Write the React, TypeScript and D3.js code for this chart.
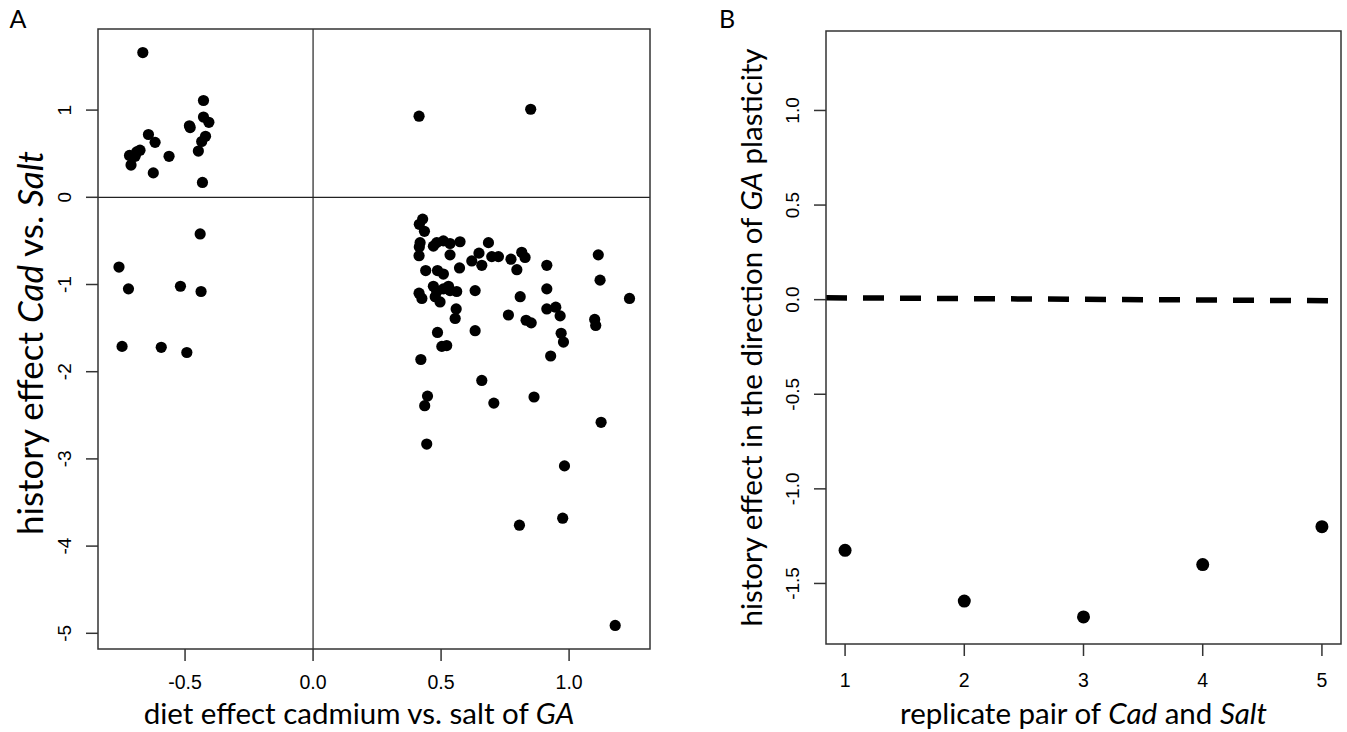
import * as d3 from 'd3'

// panel A: diet effect (x) vs history effect (y), one entry per trait
const dietEffect = [
  -0.665, -0.428, -0.428, -0.407, -0.483, -0.48, -0.42, -0.435, -0.448, -0.432,
  -0.643, -0.617, -0.676, -0.689, -0.717, -0.695, -0.711, -0.5625, -0.624,
  -0.441, -0.758, -0.721, -0.518, -0.4375, -0.746, -0.593, -0.493,
  0.414, 0.85,
  0.428, 0.415, 0.435, 0.418, 0.415, 0.414, 0.47, 0.483, 0.509, 0.535, 0.574, 0.535,
  0.685, 0.648, 0.62, 0.659, 0.698, 0.724, 0.773, 0.815, 0.828, 0.796, 0.913, 1.114,
  1.121, 1.236, 0.44, 0.486, 0.509, 0.572, 0.47, 0.483, 0.509, 0.529, 0.535, 0.561,
  0.414, 0.425, 0.477, 0.496, 0.633, 0.809, 0.913, 0.559, 0.555, 0.763, 0.832, 0.852,
  0.913, 0.948, 0.965, 1.1, 1.104, 0.969, 0.978, 0.486, 0.633, 0.503, 0.522, 0.928,
  0.421, 0.659, 0.447, 0.436, 0.706, 0.863, 1.125, 0.444, 0.982, 0.806, 0.975, 1.18,
]
const historyEffect = [
  1.66, 1.11, 0.92, 0.86, 0.82, 0.8, 0.7, 0.64, 0.53, 0.17,
  0.72, 0.63, 0.54, 0.52, 0.48, 0.47, 0.37, 0.47, 0.28,
  -0.42, -0.8, -1.05, -1.02, -1.08, -1.71, -1.72, -1.78,
  0.93, 1.01,
  -0.25, -0.31, -0.39, -0.52, -0.57, -0.67, -0.56, -0.52, -0.5, -0.53, -0.51, -0.66,
  -0.52, -0.64, -0.73, -0.78, -0.68, -0.68, -0.71, -0.63, -0.69, -0.83, -0.78, -0.66,
  -0.95, -1.16, -0.84, -0.84, -0.88, -0.81, -1.02, -1.08, -1.05, -1.02, -1.07, -1.08,
  -1.1, -1.16, -1.14, -1.2, -1.07, -1.14, -1.05, -1.28, -1.39, -1.35, -1.41, -1.44,
  -1.28, -1.26, -1.36, -1.4, -1.47, -1.56, -1.66, -1.55, -1.53, -1.71, -1.7, -1.82,
  -1.86, -2.1, -2.28, -2.39, -2.36, -2.29, -2.58, -2.83, -3.08, -3.76, -3.68, -4.91,
]
const aXTicks = [-0.5, 0, 0.5, 1.0]
const aYTicks = [1, 0, -1, -2, -3, -4, -5]

// panel B: per replicate pair
const replicates = [1, 2, 3, 4, 5]
const replicateEffect = [-1.325, -1.593, -1.677, -1.4, -1.2]
const bYTicks = [1.0, 0.5, 0.0, -0.5, -1.0, -1.5]
// dashed reference line, value at left and right end of the x range
const dashedLine = [0.01, -0.006]

const tickFont = '"Liberation Sans", Arial, sans-serif'
const titleFont = 'Lato, "Open Sans", sans-serif'

function App() {
  // panel A scales
  const ax = d3.scaleLinear().domain([-0.84, 1.316]).range([98, 650])
  const ay = d3.scaleLinear().domain([-5.18, 1.93]).range([649, 29])
  // panel B scales
  const bx = d3.scaleLinear().domain([0.84, 5.16]).range([826, 1341])
  const by = d3.scaleLinear().domain([-1.82, 1.42]).range([644, 31])

  const [ax0, ax1] = ax.range()
  const [ay0, ay1] = ay.range()
  const [bx0, bx1] = bx.range()
  const [by0, by1] = by.range()

  const dashed = d3
    .line<number>()
    .x((d, i) => bx(bx.domain()[i]))
    .y((d) => by(d))

  return (
    <svg
      width={1347}
      height={732}
      style={{ position: 'absolute', left: 0, top: 0, background: '#fff' }}
    >
      <rect width={1347} height={732} fill="#fff" />

      {/* ---------- panel A ---------- */}
      <text x={18} y={28} fontFamily={titleFont} fontSize={25} textAnchor="middle">
        A
      </text>
      <line x1={ax(0)} x2={ax(0)} y1={ay1} y2={ay0} stroke="#222" strokeWidth={1.2} />
      <line x1={ax0} x2={ax1} y1={ay(0)} y2={ay(0)} stroke="#222" strokeWidth={1.2} />
      {dietEffect.map((d, i) => (
        <circle key={i} cx={ax(d)} cy={ay(historyEffect[i])} r={5.6} fill="#000" />
      ))}
      <rect
        x={ax0}
        y={ay1}
        width={ax1 - ax0}
        height={ay0 - ay1}
        fill="none"
        stroke="#333"
        strokeWidth={1.5}
      />
      {aXTicks.map((t) => (
        <g key={t}>
          <line x1={ax(t)} x2={ax(t)} y1={ay0} y2={ay0 + 12} stroke="#333" strokeWidth={1.5} />
          <text x={ax(t)} y={ay0 + 40} textAnchor="middle" fontFamily={tickFont} fontSize={19.5}>
            {t.toFixed(1)}
          </text>
        </g>
      ))}
      {aYTicks.map((t) => (
        <g key={t}>
          <line x1={ax0 - 12} x2={ax0} y1={ay(t)} y2={ay(t)} stroke="#333" strokeWidth={1.5} />
          <text
            transform={`translate(${ax0 - 27},${ay(t)}) rotate(-90)`}
            textAnchor="middle"
            fontFamily={tickFont}
            fontSize={19}
          >
            {String(t)}
          </text>
        </g>
      ))}
      <text x={359} y={724} textAnchor="middle" fontFamily={titleFont} fontSize={29.5}>
        diet effect cadmium vs. salt of <tspan fontStyle="italic">GA</tspan>
      </text>
      <text
        transform={`translate(43,343) rotate(-90)`}
        textAnchor="middle"
        fontFamily={titleFont}
        fontSize={35}
      >
        history effect <tspan fontStyle="italic">Cad</tspan> vs.{' '}
        <tspan fontStyle="italic">Salt</tspan>
      </text>

      {/* ---------- panel B ---------- */}
      <text x={727} y={28} fontFamily={titleFont} fontSize={25} textAnchor="middle">
        B
      </text>
      <path
        d={dashed(dashedLine) ?? ''}
        fill="none"
        stroke="#000"
        strokeWidth={5.5}
        strokeDasharray="21 16"
      />
      {replicates.map((r, i) => (
        <circle key={r} cx={bx(r)} cy={by(replicateEffect[i])} r={6.5} fill="#000" />
      ))}
      <rect
        x={bx0}
        y={by1}
        width={bx1 - bx0}
        height={by0 - by1}
        fill="none"
        stroke="#333"
        strokeWidth={1.5}
      />
      {replicates.map((t) => (
        <g key={t}>
          <line x1={bx(t)} x2={bx(t)} y1={by0} y2={by0 + 12} stroke="#333" strokeWidth={1.5} />
          <text x={bx(t)} y={by0 + 43} textAnchor="middle" fontFamily={tickFont} fontSize={19.5}>
            {String(t)}
          </text>
        </g>
      ))}
      {bYTicks.map((t) => (
        <g key={t}>
          <line x1={bx0 - 12} x2={bx0} y1={by(t)} y2={by(t)} stroke="#333" strokeWidth={1.5} />
          <text
            transform={`translate(${bx0 - 27},${by(t)}) rotate(-90)`}
            textAnchor="middle"
            fontFamily={tickFont}
            fontSize={19}
          >
            {t.toFixed(1)}
          </text>
        </g>
      ))}
      <text
        x={(bx0 + bx1) / 2}
        y={724}
        textAnchor="middle"
        fontFamily={titleFont}
        fontSize={29.5}
      >
        replicate pair of <tspan fontStyle="italic">Cad</tspan> and{' '}
        <tspan fontStyle="italic">Salt</tspan>
      </text>
      <text
        transform={`translate(762,${(by0 + by1) / 2}) rotate(-90)`}
        textAnchor="middle"
        fontFamily={titleFont}
        fontSize={29.5}
      >
        history effect in the direction of <tspan fontStyle="italic">GA</tspan> plasticity
      </text>
    </svg>
  )
}

export default App
